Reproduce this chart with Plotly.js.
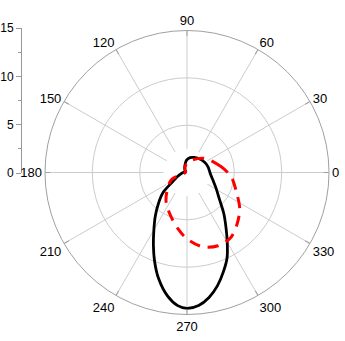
<!DOCTYPE html>
<html>
<head>
<meta charset="utf-8">
<script src="https://cdn.plot.ly/plotly-3.0.1.min.js"></script>
<style>html,body{margin:0;padding:0;background:#fff;}#chart{width:345px;height:341px;}</style>
</head>
<body>
<div id="chart"></div>
<script>
// Black solid lobe (angle in degrees, radius)
const blackTheta = [0, 15, 30, 50, 65, 78, 92, 106, 125, 150, 175, 195, 205, 213, 220, 227, 234, 240, 245, 250, 255, 261, 266, 270, 275, 280, 285, 290, 295, 300, 305, 312, 320, 333, 345, 360];
const blackR     = [2.42, 2.3, 2.15, 1.92, 1.75, 1.61, 1.3, 0.81, 0.4, 0.15, 0.35, 0.75, 1.2, 1.85, 3.3, 4.4, 5.7, 7.0, 8.4, 10.0, 11.6, 13.2, 14.1, 14.35, 14.1, 13.4, 12.4, 11.2, 10.0, 8.5, 7.2, 5.8, 4.5, 3.4, 2.8, 2.42];
// Red dashed curve
const redTheta = [0, 10, 37, 69, 95, 130, 170, 205, 232, 246, 261, 270, 282, 293, 304, 313, 325, 338, 355, 360];
const redR     = [4.3, 3.64, 2.45, 1.40, 0.9, 0.35, 0.15, 1.84, 3.61, 4.62, 6.04, 7.0, 8.03, 8.41, 8.28, 7.68, 6.80, 5.65, 4.69, 4.3];
// Axis ticks
const angularTicks = [0, 30, 60, 90, 120, 150, 180, 210, 240, 270, 300, 330];
const radialTicks = [0, 5, 10, 15];
const radialMax = 15;
const spokeHoleR = 2.5;

const holeTheta = [];
const holeR = [];
for (let a = 0; a <= 360; a += 10) { holeTheta.push(a); holeR.push(spokeHoleR); }

const traces = [
  {type:'scatterpolar', theta: holeTheta, r: holeR, mode:'lines', fill:'toself',
   fillcolor:'#ffffff', line:{width:0, color:'#ffffff'}, hoverinfo:'skip', showlegend:false},
  {type:'scatterpolar', theta: blackTheta, r: blackR, mode:'lines',
   line:{color:'#000000', width:2.8, shape:'spline', smoothing:1}, showlegend:false},
  {type:'scatterpolar', theta: redTheta, r: redR, mode:'lines',
   line:{color:'#ff0000', width:3, dash:'11px,8px', shape:'spline', smoothing:0.9}, showlegend:false},
  {type:'scatter', x:[], y:[], xaxis:'x', yaxis:'y', showlegend:false, hoverinfo:'skip'}
];

const R = 142, CX = 187, CY = 172.5;
const layout = {
  width:345, height:341,
  margin:{l:0, r:0, t:0, b:0},
  paper_bgcolor:'#ffffff',
  plot_bgcolor:'rgba(0,0,0,0)',
  font:{family:'Liberation Sans, Arial, sans-serif', color:'#000000'},
  showlegend:false,
  polar:{
    domain:{x:[(CX-R)/345, (CX+R)/345], y:[(341-CY-R)/341, (341-CY+R)/341]},
    bgcolor:'rgba(0,0,0,0)',
    radialaxis:{range:[0, radialMax], tickvals:radialTicks.slice(1, 3), showticklabels:false,
      ticks:'', showline:false, gridcolor:'#cccccc', gridwidth:1},
    angularaxis:{rotation:0, direction:'counterclockwise', tickvals:angularTicks,
      ticktext:angularTicks.map(String), ticks:'inside', ticklen:5, tickcolor:'#a0a0a0',
      linecolor:'#a0a0a0', linewidth:1, gridcolor:'#cccccc', gridwidth:1,
      tickfont:{size:13, color:'#000000', family:'Liberation Sans, Arial, sans-serif'}}
  },
  xaxis:{domain:[0, 0.06], visible:false, range:[0,1], fixedrange:true},
  yaxis:{domain:[(341-173)/341, (341-28)/341], anchor:'free', position:21/345, side:'left',
    range:[0, radialMax], tickvals:radialTicks, ticks:'outside', ticklen:5, tickcolor:'#999999',
    showline:true, linecolor:'#999999', linewidth:1, showgrid:false, zeroline:false,
    minor:{tickvals:[2.5, 7.5, 12.5], ticks:'outside', ticklen:3, tickcolor:'#999999'},
    tickfont:{size:12, color:'#000000', family:'Liberation Sans, Arial, sans-serif'}, fixedrange:true}
};

Plotly.newPlot('chart', traces, layout, {displayModeBar:false, staticPlot:true});
</script>
</body>
</html>
